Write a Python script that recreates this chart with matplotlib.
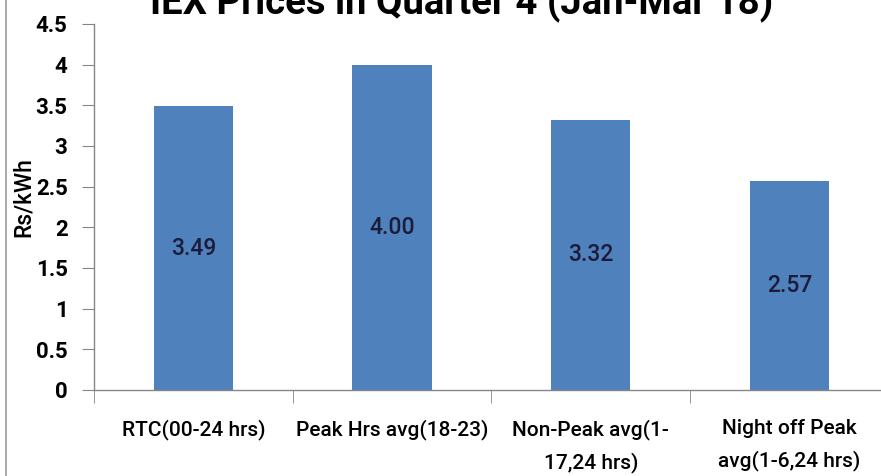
import matplotlib
matplotlib.use("Agg")
import matplotlib.pyplot as plt
from matplotlib.lines import Line2D

categories = ["RTC(00-24 hrs)", "Peak Hrs avg(18-23)", "Non-Peak avg(1-\n17,24 hrs)", "Night off Peak\navg(1-6,24 hrs)"]
values = [3.49, 4.00, 3.32, 2.57]
value_labels = ["3.49", "4.00", "3.32", "2.57"]
yticks = [0, 0.5, 1, 1.5, 2, 2.5, 3, 3.5, 4, 4.5]
ytick_labels = ["0", "0.5", "1", "1.5", "2", "2.5", "3", "3.5", "4", "4.5"]
title = "IEX Prices in Quarter 4 (Jan-Mar 18)"
ylabel = "Rs/kWh"

plt.rcParams["font.family"] = ["Roboto", "DejaVu Sans"]

W, H = 881, 476
fig = plt.figure(figsize=(W / 100, H / 100), dpi=100)
fig.patch.set_facecolor("white")

left = 94 / W
bottom = 1 - 390 / H
top = 1 - 24 / H
width = 4 * 198.7 / W
ax = fig.add_axes([left, bottom, width, top - bottom])

x = list(range(len(categories)))
ax.bar(x, values, width=0.4, color="#4F81BD", zorder=2)
for xi, v, lab in zip(x, values, value_labels):
    ax.text(xi, v / 2, lab, ha="center", va="center", fontsize=16.5,
            fontweight="medium", color="#1c1c3a")

ax.set_xlim(-0.5, len(categories) - 0.5)
ax.set_ylim(0, 4.5)
ax.set_yticks(yticks)
ax.set_yticklabels(ytick_labels, fontsize=16, fontweight="bold")
ax.set_xticks(x)
ax.set_xticklabels(categories, fontsize=15, fontweight="medium", linespacing=1.75)
ax.set_xticks([i + 0.5 for i in range(-1, len(categories))], minor=True)
ax.tick_params(axis="x", which="major", length=0, pad=21)
ax.tick_params(axis="x", which="minor", length=9, direction="out", color="#868686")
ax.tick_params(axis="y", length=9, direction="out", color="#868686", pad=10)

for s in ["top", "right"]:
    ax.spines[s].set_visible(False)
for s in ["left", "bottom"]:
    ax.spines[s].set_color("#868686")
    ax.spines[s].set_linewidth(1.0)

fig.text(462 / W, 1 - 14 / H, title, ha="center", va="baseline",
         fontsize=27.5, fontweight="bold")
fig.text(23 / W, 1 - 197 / H, ylabel, rotation=90, ha="center", va="center",
         fontsize=16.5, fontweight="medium")

fig.add_artist(Line2D([6 / W, 6 / W], [0, 1], transform=fig.transFigure,
                      color="#9a9a9a", linewidth=1.2))

fig.savefig("out.png", dpi=100)
